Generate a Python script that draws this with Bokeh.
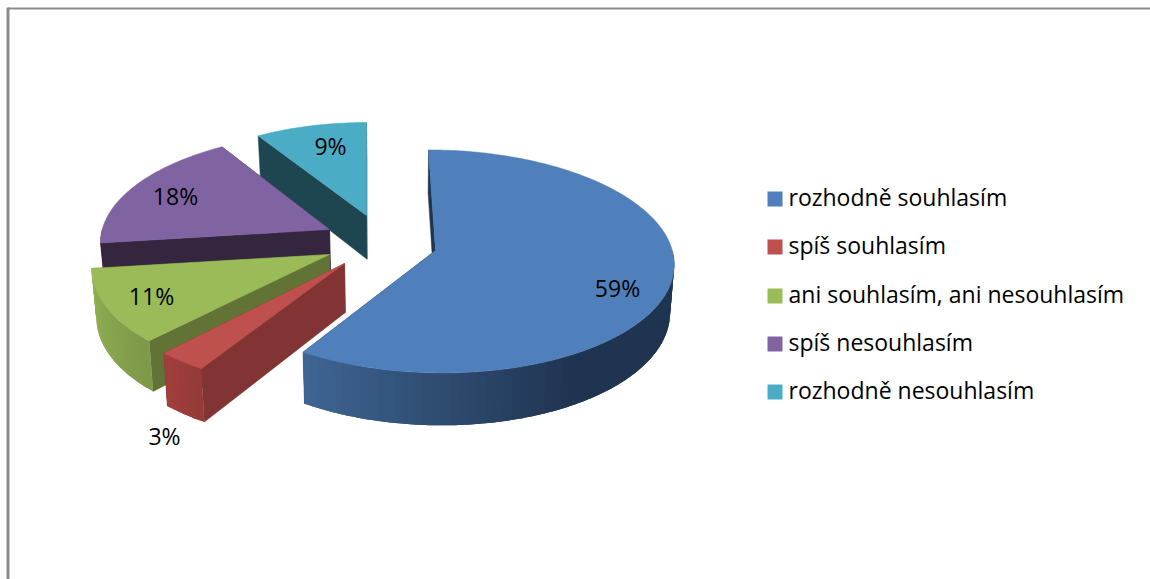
import math
from bokeh.embed import file_html
from bokeh.models import Range1d
from bokeh.plotting import figure
from bokeh.resources import INLINE
from bokeh.core.properties import value as font

categories = ["rozhodně souhlasím", "spíš souhlasím", "ani souhlasím, ani nesouhlasím",
              "spíš nesouhlasím", "rozhodně nesouhlasím"]
shares = [59, 3, 11, 18, 9]
share_labels = ["59%", "3%", "11%", "18%", "9%"]

# Canvas is addressed in pixels, y downward
W, H = 1150, 579
FONT = "Open Sans"

top_colors = ["#4F80BB", "#BE504D", "#9BBB59", "#8064A2", "#4BACC6"]
cut_colors = ["#1F3550", "#813433", "#617335", "#35263F", "#1E4650"]
# Outer wall shading: (angle a, colour a, angle b, colour b)
wall_shades = [(150, "#1F3450", 212, "#3F6593"), (212, "#933A38", 224, "#A33F3D"),
               (223, "#7D9848", 263, "#93B256"), (262, "#35263F", 328, "#35263F"),
               (327, "#3A8FA5", 360, "#3A8FA5")]
# Exploded wedge tips, per-wedge perspective scale and shear
tips = [(435, 250), (344, 263), (329, 254), (329, 229), (366, 215)]
scales = [0.995, 1.03, 0.99, 0.955, 0.92]
shears = [7, 0, -9, -6, 0]
label_pos = [(617, 287), (164, 435), (151, 295), (175, 195), (330, 145)]
legend_y = [198.5, 246.5, 295.5, 343.5, 391.5]
legend_text_y = [196.5, 244.5, 293.5, 341.5, 389.5]

RX, RY, DEPTH, PERSP = 238.0, 111.0, 47.5, 0.098
VANISH_X, SHRINK = 400.0, 0.985


def top_point(i, deg):
    t = math.radians(deg)
    sx, sy = math.sin(t), -math.cos(t)
    s = 1 / (1 - PERSP * sy)
    ax, ay = tips[i]
    return ax + scales[i] * (RX * sx * s + shears[i] * sy), ay + scales[i] * RY * sy * s


def drop(i, pt, deg=None):
    # Foot of the vertical wall beneath a point of the top face
    if deg is None:
        s = 1.0
    else:
        s = 1 / (1 + PERSP * math.cos(math.radians(deg)))
    return VANISH_X + (pt[0] - VANISH_X) * SHRINK, pt[1] + DEPTH * scales[i] * s


def mix(c1, c2, f):
    a = [int(c1[k:k + 2], 16) for k in (1, 3, 5)]
    b = [int(c2[k:k + 2], 16) for k in (1, 3, 5)]
    return "#%02x%02x%02x" % tuple(round(u + (v - u) * f) for u, v in zip(a, b))


p = figure(width=W, height=H, x_range=Range1d(0, W), y_range=Range1d(H, 0),
           output_backend="svg", toolbar_location=None, min_border=0)
p.axis.visible = False
p.grid.visible = False
p.outline_line_color = None
p.background_fill_color = "white"
p.border_fill_color = "white"

# Frame pieces along the top and left edges
p.line([7.5, W], [8, 8], line_color="#8C8C8C", line_width=2)
p.line([7.5, 7.5], [7, H], line_color="#8C8C8C", line_width=3)

total = sum(shares)
edges = [0.0]
for v in shares:
    edges.append(edges[-1] + v / total * 360)

# Painter's order: rear wedges first
for i in (4, 3, 0, 2, 1):
    a0, a1 = edges[i], edges[i + 1]
    tip = tips[i]
    tip_foot = drop(i, tip)

    for deg in (a0, a1):
        rim = top_point(i, deg)
        foot = drop(i, rim, deg)
        p.patch([tip[0], rim[0], foot[0], tip_foot[0]], [tip[1], rim[1], foot[1], tip_foot[1]],
                fill_color=cut_colors[i], line_color=cut_colors[i], line_width=0.5)

    lo, hi = max(a0, 90.0), min(a1, 270.0)
    if hi > lo:
        n = max(2, int((hi - lo) / 2.0))
        sa, ca, sb, cb = wall_shades[i]
        step = (hi - lo) / n
        for k in range(n):
            # Each band runs one step past its end so the next band hides the joint
            d0 = lo + step * k
            d1 = min(hi, d0 + 2 * step)
            arc = [d0 + (d1 - d0) * j / 6 for j in range(7)]
            rims = [top_point(i, d) for d in arc]
            feet = [drop(i, q, d) for q, d in zip(rims, arc)]
            outline = rims + feet[::-1]
            frac = min(1.0, max(0.0, (d0 + step / 2 - sa) / (sb - sa)))
            p.patch([q[0] for q in outline], [q[1] for q in outline],
                    fill_color=mix(ca, cb, frac), line_color=None)

    m = max(8, int((a1 - a0) / 1.0))
    arc = [top_point(i, a0 + (a1 - a0) * k / m) for k in range(m + 1)]
    p.patch([tip[0]] + [q[0] for q in arc], [tip[1]] + [q[1] for q in arc],
            fill_color=top_colors[i], line_color=top_colors[i], line_width=0.5)

p.text([q[0] for q in label_pos], [q[1] for q in label_pos], text=share_labels,
       text_font=font(FONT), text_font_size="23px", text_color="#000000",
       text_align="center", text_baseline="middle")

# Legend keys and names
p.rect([774.5] * 5, legend_y, width=15, height=15, fill_color=top_colors, line_color=None)
p.text([788] * 5, legend_text_y, text=categories, text_font=font(FONT), text_font_size="23px",
       text_color="#000000", text_align="left", text_baseline="middle")

open("out.html", "w").write(file_html(p, INLINE))
